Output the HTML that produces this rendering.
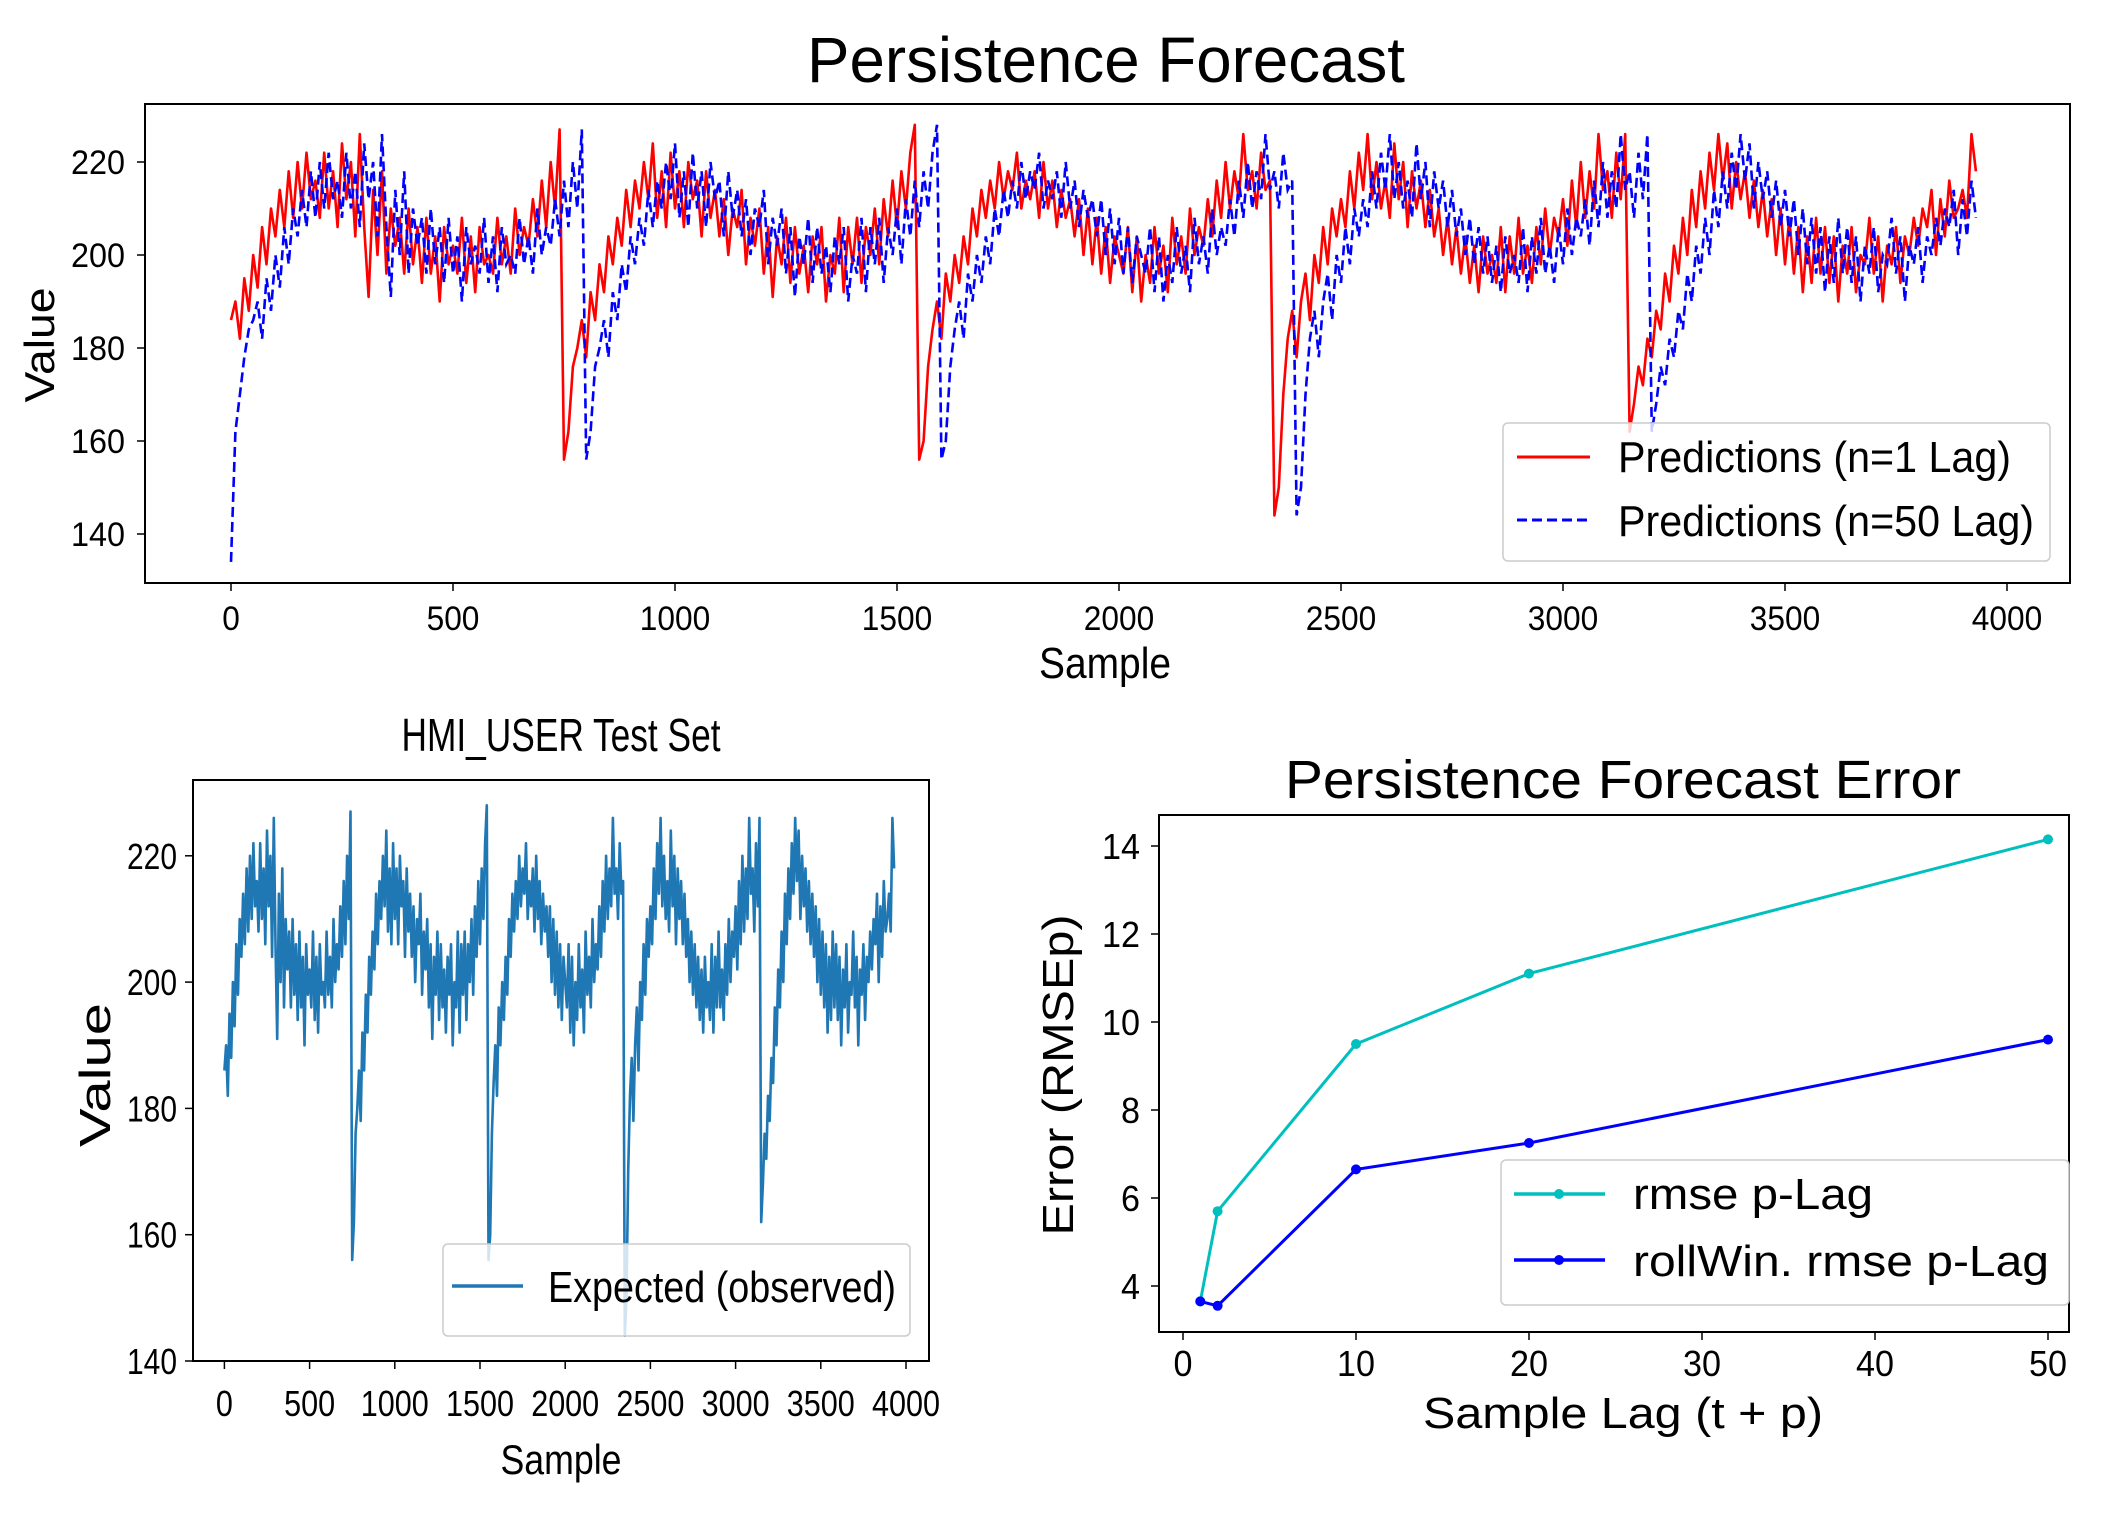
<!DOCTYPE html>
<html><head><meta charset="utf-8"><style>
html,body{margin:0;padding:0;background:#fff;}
svg{display:block;font-family:"Liberation Sans",sans-serif;}
</style></head><body>
<svg id="fig" xmlns="http://www.w3.org/2000/svg" width="2121" height="1515" viewBox="0 0 2121 1515">
<rect width="2121" height="1515" fill="#fff"/>
<defs>
<clipPath id="clipTop"><rect x="145" y="104" width="1925" height="479"/></clipPath>
<clipPath id="clipBL"><rect x="193" y="780" width="736" height="581"/></clipPath>
</defs>
</svg>
<script>
// ---- data ----
const sampleStep = 10;
const observed = [
186,190,182,195,188,200,193,206,198,210,
204,214,206,218,208,220,210,222,212,216,
208,222,210,218,206,224,212,220,204,226,
206,191,214,200,218,196,210,202,208,196,
210,198,206,194,208,196,204,190,206,198,
202,196,208,194,204,192,206,198,200,196,
208,198,204,196,210,200,206,202,212,204,
216,206,220,210,227,156,162,176,180,186,
178,192,186,198,192,204,198,208,202,214,
206,216,210,220,212,224,208,218,206,222,
210,218,206,220,212,216,204,218,208,214,
204,212,200,210,206,214,198,208,202,210,
196,206,191,204,198,208,194,206,196,202,
192,204,198,206,190,200,196,208,192,206,
198,208,194,206,200,210,198,212,204,216,
206,218,210,222,228,156,160,176,184,190,
182,196,190,200,194,204,198,210,204,214,
208,216,210,220,212,218,214,222,210,216,
212,218,208,220,210,216,206,214,208,212,
204,212,200,210,198,208,196,206,194,204,
200,196,206,192,204,190,200,194,206,196,
202,192,208,198,204,196,210,200,206,202,
212,204,216,208,220,210,218,212,226,214,
218,210,222,214,216,144,150,170,182,188,
178,190,196,186,200,194,206,198,210,204,
212,206,218,210,222,214,226,212,220,210,
216,208,224,212,220,206,218,210,216,206,
214,204,210,200,208,198,206,196,204,194,
202,192,204,196,200,194,206,192,204,196,
208,196,202,194,206,198,210,200,208,204,
212,202,216,206,220,208,218,210,226,214,
218,208,222,212,226,162,168,176,172,182,
178,188,184,196,190,202,196,208,200,214,
206,218,210,222,214,226,216,224,210,220,
212,218,208,216,206,214,204,212,200,210,
198,208,196,206,192,204,194,208,196,206,
194,204,190,202,196,206,192,200,198,208,
196,204,190,202,198,206,194,204,200,208,
202,210,206,214,200,212,204,216,208,210,
214,208,226,218
];
const lag50Prefix = [134,162,170,178,184];
const lagSteps = [1, 2, 10, 20, 50];
const rmseLag = [3.65, 5.7, 9.5, 11.1, 14.15];
const rollWinRmse = [3.65, 3.55, 6.65, 7.25, 9.6];
const sampleTicks = [0, 500, 1000, 1500, 2000, 2500, 3000, 3500, 4000];
const valueTicksTop = [140, 160, 180, 200, 220];
const valueTicksBL = [140, 160, 180, 200, 220];
const errTicks = [4, 6, 8, 10, 12, 14];
const lagTicks = [0, 10, 20, 30, 40, 50];

// ---- axis functions ----
const xT = s => 231 + s * 1776 / 4000;
const yT = v => 534 - (v - 140) * 93 / 20;
const xL = s => 224.4 + s * (906 - 224.4) / 4000;
const yL = v => 1361 - (v - 140) * 126.3 / 20;
const xR = l => 1183 + l * 17.3;
const yR = e => 1286 - (e - 4) * 44;

const NS = "http://www.w3.org/2000/svg";
const fig = document.getElementById('fig');
function mk(tag, attrs, parent) {
  const e = document.createElementNS(NS, tag);
  for (const k in attrs) e.setAttribute(k, attrs[k]);
  (parent || fig).appendChild(e);
  return e;
}
function txt(str, x, y, size, len, anchor, parent, rot) {
  const t = mk('text', {x: x, y: y, 'font-size': size, 'text-anchor': anchor || 'middle', fill: '#000'}, parent);
  if (len) { t.setAttribute('textLength', len); t.setAttribute('lengthAdjust', 'spacingAndGlyphs'); }
  if (rot) t.setAttribute('transform', 'rotate(-90 ' + x + ' ' + y + ')');
  t.textContent = str;
  return t;
}
function pathFrom(xs, ys) {
  let d = '';
  for (let i = 0; i < xs.length; i++) d += (i ? 'L' : 'M') + xs[i].toFixed(1) + ' ' + ys[i].toFixed(1);
  return d;
}

const samples = observed.map((v, i) => i * sampleStep);
const pred1 = observed.slice();
const pred50 = lag50Prefix.concat(observed).slice(0, observed.length);

// ===== Top plot =====
let g = mk('g', {});


let t = txt('Persistence Forecast', 1106, 82, 64, 598, 'middle', g);


let p = mk('path', {d: pathFrom(samples.map(xT), pred1.map(yT)), fill: 'none', stroke: '#ff0000', 'stroke-width': 2.6, 'stroke-linejoin': 'round', 'clip-path': 'url(#clipTop)'}, g);


p = mk('path', {d: pathFrom(samples.map(xT), pred50.map(yT)), fill: 'none', stroke: '#0000ff', 'stroke-width': 2.6, 'stroke-dasharray': '10 5', 'clip-path': 'url(#clipTop)'}, g);


let r = mk('rect', {x: 145, y: 104, width: 1925, height: 479, fill: 'none', stroke: '#000', 'stroke-width': 2}, g);


sampleTicks.forEach(s => {
  const l = mk('line', {x1: xT(s), x2: xT(s), y1: 583, y2: 591, stroke: '#000', 'stroke-width': 1.5}, g);
  
  
  const tt = txt(String(s), xT(s), 630, 34, String(s).length * 17.6, 'middle', g);
  
  
});
valueTicksTop.forEach(v => {
  const l = mk('line', {x1: 137, x2: 145, y1: yT(v), y2: yT(v), stroke: '#000', 'stroke-width': 1.5}, g);
  
  
  const tt = txt(String(v), 125, yT(v) + 12, 34, 54, 'end', g);
  
  
});
t = txt('Sample', 1105, 678, 44, 132, 'middle', g);


t = txt('Value', 54, 345, 42, 115, 'middle', g, true);


r = mk('rect', {x: 1503, y: 423, width: 547, height: 138, rx: 5, fill: '#fff', 'fill-opacity': 0.8, stroke: '#ccc', 'stroke-width': 1.5}, g);


let l = mk('line', {x1: 1517, x2: 1590, y1: 457, y2: 457, stroke: '#ff0000', 'stroke-width': 3}, g);


t = txt('Predictions (n=1 Lag)', 1618, 472, 44, 393, 'start', g);


l = mk('line', {x1: 1517, x2: 1590, y1: 520, y2: 520, stroke: '#0000ff', 'stroke-width': 3, 'stroke-dasharray': '10 5'}, g);


t = txt('Predictions (n=50 Lag)', 1618, 536, 44, 416, 'start', g);



// ===== Bottom-left plot =====
g = mk('g', {});


t = txt('HMI_USER Test Set', 561, 751, 46, 319, 'middle', g);


p = mk('path', {d: pathFrom(samples.map(xL), observed.map(yL)), fill: 'none', stroke: '#1f77b4', 'stroke-width': 2.6, 'stroke-linejoin': 'round', 'clip-path': 'url(#clipBL)'}, g);


r = mk('rect', {x: 193, y: 780, width: 736, height: 581, fill: 'none', stroke: '#000', 'stroke-width': 2}, g);


sampleTicks.forEach(s => {
  const l2 = mk('line', {x1: xL(s), x2: xL(s), y1: 1361, y2: 1369, stroke: '#000', 'stroke-width': 1.5}, g);
  
  
  const tt = txt(String(s), xL(s), 1416, 36, String(s).length * 17, 'middle', g);
  
  
});
valueTicksBL.forEach(v => {
  const l2 = mk('line', {x1: 185, x2: 193, y1: yL(v), y2: yL(v), stroke: '#000', 'stroke-width': 1.5}, g);
  
  
  const tt = txt(String(v), 177, yL(v) + 13, 36, 50, 'end', g);
  
  
});
t = txt('Sample', 561, 1474, 42, 121, 'middle', g);


t = txt('Value', 110, 1075, 44, 144, 'middle', g, true);


r = mk('rect', {x: 443, y: 1244, width: 467, height: 92, rx: 5, fill: '#fff', 'fill-opacity': 0.8, stroke: '#ccc', 'stroke-width': 1.5}, g);


l = mk('line', {x1: 452, x2: 523, y1: 1286, y2: 1286, stroke: '#1f77b4', 'stroke-width': 3.5}, g);


t = txt('Expected (observed)', 548, 1302, 44, 348, 'start', g);



// ===== Bottom-right plot =====
g = mk('g', {});


t = txt('Persistence Forecast Error', 1623, 798, 54, 676, 'middle', g);


r = mk('rect', {x: 1159, y: 815, width: 910, height: 517, fill: 'none', stroke: '#000', 'stroke-width': 2}, g);


[[rmseLag, '#00bfbf', 'rmse'], [rollWinRmse, '#0000ff', 'rollwin']].forEach(([vals, col, nm]) => {
  const pp = mk('path', {d: pathFrom(lagSteps.map(xR), vals.map(yR)), fill: 'none', stroke: col, 'stroke-width': 3}, g);
  
  
  vals.forEach((v, i) => {
    const c = mk('circle', {cx: xR(lagSteps[i]), cy: yR(v), r: 5, fill: col}, g);
    
    
  });
});
lagTicks.forEach(s => {
  const l2 = mk('line', {x1: xR(s), x2: xR(s), y1: 1332, y2: 1340, stroke: '#000', 'stroke-width': 1.5}, g);
  
  
  const tt = txt(String(s), xR(s), 1376, 36, String(s).length * 19, 'middle', g);
  
  
});
errTicks.forEach(v => {
  const l2 = mk('line', {x1: 1151, x2: 1159, y1: yR(v), y2: yR(v), stroke: '#000', 'stroke-width': 1.5}, g);
  
  
  const tt = txt(String(v), 1140, yR(v) + 13, 36, String(v).length * 19, 'end', g);
  
  
});
t = txt('Sample Lag (t + p)', 1623, 1428, 44, 400, 'middle', g);


t = txt('Error (RMSEp)', 1073, 1075, 44, 321, 'middle', g, true);


r = mk('rect', {x: 1501, y: 1160, width: 568, height: 145, rx: 5, fill: '#fff', 'fill-opacity': 0.8, stroke: '#ccc', 'stroke-width': 1.5}, g);


l = mk('line', {x1: 1514, x2: 1605, y1: 1194, y2: 1194, stroke: '#00bfbf', 'stroke-width': 3.5}, g);


let c = mk('circle', {cx: 1559, cy: 1194, r: 5, fill: '#00bfbf'}, g);


t = txt('rmse p-Lag', 1633, 1209, 44, 240, 'start', g);


l = mk('line', {x1: 1514, x2: 1605, y1: 1260, y2: 1260, stroke: '#0000ff', 'stroke-width': 3.5}, g);


c = mk('circle', {cx: 1559, cy: 1260, r: 5, fill: '#0000ff'}, g);


t = txt('rollWin. rmse p-Lag', 1633, 1276, 44, 416, 'start', g);


</script>
</body></html>
